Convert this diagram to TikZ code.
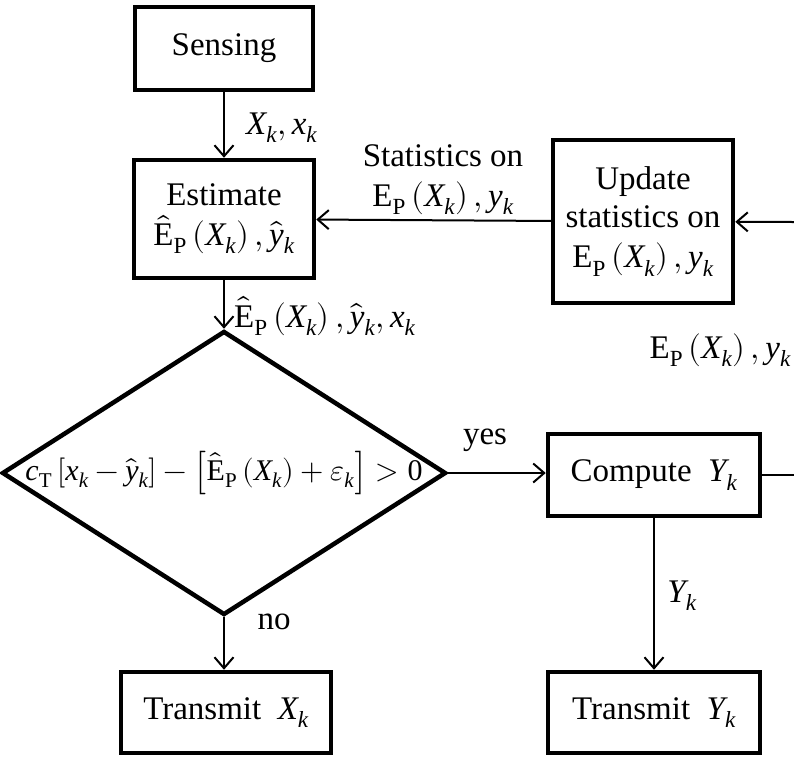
\documentclass[tikz,border=0pt]{standalone}
\usepackage{unicode-math}
\setmainfont{LiberationSerif}[Extension=.ttf,UprightFont=*-Regular,ItalicFont=*-Italic,BoldFont=*-Bold,BoldItalicFont=*-BoldItalic]
\setmathfont{Latin Modern Math}
\setmathfont{LiberationSerif-Italic.ttf}[range=it/{latin,Latin}->up]
\setmathfont{LiberationSerif-Regular.ttf}[range=up/{latin,Latin,num}]
\usetikzlibrary{shapes.geometric,arrows.meta}
\newcommand{\EP}{\mathrm{E}_{\mathrm{P}}\left(X_k\right)}
\newcommand{\EPh}{\hat{\mathrm{E}}_{\mathrm{P}}\left(X_k\right)}
\begin{document}
\begin{tikzpicture}[x=1pt,y=-1pt,
  font=\fontsize{33}{38}\selectfont,
  box/.style={draw,line width=4.5pt,inner sep=0pt,align=center},
  conn/.style={line width=2pt,-{Straight Barb[length=11pt,width=19pt,line width=2pt]}},
  plain/.style={line width=2pt},
  lbl/.style={inner sep=0pt,align=center}]
\useasboundingbox (0,0) rectangle (794,756);
\node[box,minimum width=178pt,minimum height=83pt] (sensing) at (224,48.5) {Sensing};
\node[box,minimum width=180pt,minimum height=118pt] (estimate) at (224,219) {Estimate\\[2pt]$\EPh,\hat{y}_k$};
\node[box,minimum width=180pt,minimum height=163pt] (update) at (643,221.5) {Update\\statistics on\\[2pt]$\EP,y_k$};
\node[diamond,draw,line width=4.5pt,minimum width=444pt,minimum height=284pt,inner sep=0pt,aspect=1.6] (dec) at (224,473) {};
\node[lbl,font=\fontsize{30}{35}\selectfont] (dectext) at (dec.center) {$c_{\mathrm{T}}\left[x_k-\hat{y}_k\right]-\left[\EPh+\varepsilon_k\right]>0$};
\node[box,minimum width=212pt,minimum height=82pt] (compute) at (654,475) {Compute\ \ $Y_k$};
\node[box,minimum width=210pt,minimum height=81pt] (transX) at (226,712.5) {Transmit\ \ $X_k$};
\node[box,minimum width=212pt,minimum height=81pt] (transY) at (654,712.5) {Transmit\ \ $Y_k$};
\coordinate (inR) at (794,222);
\coordinate (outR) at (794,475);
\draw[conn] (sensing) -- (estimate);
\draw[conn] (estimate) -- (dec.north);
\draw[conn] (update) -- (estimate);
\draw[conn] (inR) -- (update);
\draw[conn] (dec.east) -- (compute.west |- dec.east);
\draw[conn] (dec.south) -- (dec.south |- transX.north);
\draw[conn] (compute.south) -- (transY.north);
\draw[plain] (compute.east |- outR) -- (outR);
\node[lbl,anchor=west] (l1) at (246,128) {$X_k,x_k$};
\node[lbl] (l2) at (443,180) {Statistics on\\[2pt]$\EP,y_k$};
\node[lbl,anchor=west] (l3) at (234,316) {$\EPh,\hat{y}_k,x_k$};
\node[lbl,anchor=east] (l4) at (791,350) {$\EP,y_k$};
\node[lbl] (l5) at (485,440) {yes};
\node[lbl] (l6) at (274,622) {no};
\node[lbl] (l7) at (682,596) {$Y_k$};
\end{tikzpicture}
\end{document}
